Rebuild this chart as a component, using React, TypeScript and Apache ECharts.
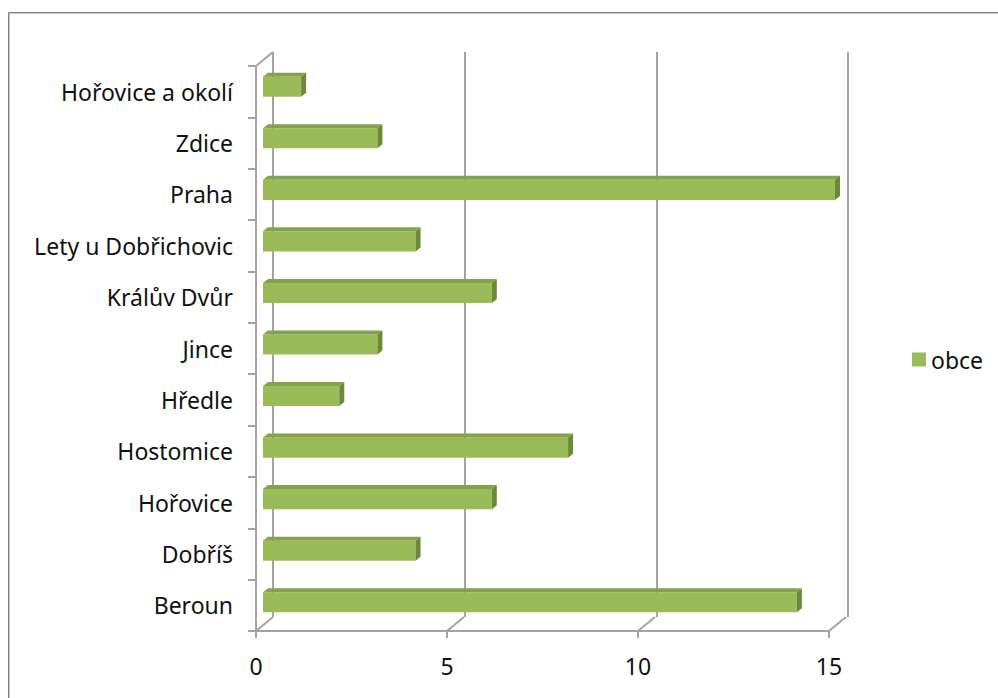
import React, { useEffect, useRef } from "react";
import * as echarts from "echarts";

const categories = [
  "Beroun",
  "Dobříš",
  "Hořovice",
  "Hostomice",
  "Hředle",
  "Jince",
  "Králův Dvůr",
  "Lety u Dobřichovic",
  "Praha",
  "Zdice",
  "Hořovice a okolí",
];
const obce = [14, 4, 6, 8, 2, 3, 6, 4, 15, 3, 1];
const xMin = 0;
const xMax = 15;
const xInterval = 5;
const frameTicks = [0, 5, 10, 15];

const FONT = "Noto Sans";
const AXIS_COLOR = "#a3a3a3";
const DEPTH_X = 17;
const DEPTH_Y = 14;

export default function App() {
  const ref = useRef<HTMLDivElement>(null);

  useEffect(() => {
    if (!ref.current) return;
    const chart = echarts.init(ref.current, undefined, { renderer: "svg" });

    const option: any = {
      animation: false,
      backgroundColor: "#ffffff",
      textStyle: { fontFamily: FONT },
      graphic: [
        {
          type: "rect",
          shape: { x: 8.5, y: 12.5, width: 1200, height: 1000 },
          style: { fill: "none", stroke: "#7f7f7f", lineWidth: 1 },
          silent: true,
        },
        {
          type: "rect",
          shape: { x: 9.5, y: 13.5, width: 1200, height: 1000 },
          style: { fill: "none", stroke: "#c6c6c6", lineWidth: 1 },
          silent: true,
        },
      ],
      legend: {
        data: ["obce"],
        left: 907,
        top: 343,
        icon: "rect",
        itemWidth: 14,
        itemHeight: 14,
        textStyle: { fontSize: 23, color: "#111", fontFamily: FONT },
      },
      grid: [
        { left: 256, right: 169, top: 66, bottom: 67 },
        { left: 273, right: 150, top: 52, bottom: 81 },
        { left: 263, right: 163, top: 61, bottom: 70 },
      ],
      xAxis: [
        {
          gridIndex: 0,
          type: "value",
          min: xMin,
          max: xMax,
          interval: xInterval,
          axisLine: { show: true, lineStyle: { color: AXIS_COLOR, width: 2 } },
          axisTick: { show: true, length: 7, lineStyle: { color: AXIS_COLOR, width: 2 } },
          axisLabel: { margin: 23, fontSize: 23, color: "#111", fontFamily: FONT },
          splitLine: { show: false },
        },
        {
          gridIndex: 1,
          type: "value",
          min: xMin,
          max: xMax,
          interval: xInterval,
          axisLine: { show: false },
          axisTick: { show: false },
          axisLabel: { show: false },
          splitLine: {
            show: true,
            showMinLine: true,
            showMaxLine: true,
            lineStyle: { color: AXIS_COLOR, width: 2 },
          },
        },
        { gridIndex: 2, type: "value", min: xMin, max: xMax, show: false },
      ],
      yAxis: [
        {
          gridIndex: 0,
          type: "category",
          data: categories,
          axisLine: { show: true, lineStyle: { color: AXIS_COLOR, width: 2 } },
          axisTick: { show: true, length: 8, lineStyle: { color: AXIS_COLOR, width: 2 } },
          axisLabel: { margin: 23, fontSize: 23, color: "#111", fontFamily: FONT },
          splitLine: { show: false },
        },
        { gridIndex: 1, type: "category", data: categories, show: false },
        { gridIndex: 2, type: "category", data: categories, show: false },
      ],
      series: [
        {
          type: "custom",
          name: "frame",
          xAxisIndex: 0,
          yAxisIndex: 0,
          silent: true,
          data: frameTicks.map((v) => [v, 0]),
          renderItem: (params: any, api: any) => {
            const v = api.value(0);
            const p = api.coord([v, 0]);
            const cs = params.coordSys;
            const bottom = cs.y + cs.height;
            const ls = { stroke: AXIS_COLOR, lineWidth: 2 };
            const children: any[] = [
              {
                type: "line",
                shape: { x1: p[0], y1: bottom, x2: p[0] + DEPTH_X, y2: bottom - DEPTH_Y },
                style: ls,
              },
            ];
            if (v === xMin) {
              children.push({
                type: "line",
                shape: { x1: p[0], y1: cs.y, x2: p[0] + DEPTH_X, y2: cs.y - DEPTH_Y },
                style: ls,
              });
            }
            return { type: "group", children };
          },
        },
        {
          type: "custom",
          name: "obce",
          xAxisIndex: 2,
          yAxisIndex: 2,
          itemStyle: { color: "#9BBB59" },
          data: obce.map((v, i) => [v, i]),
          renderItem: (params: any, api: any) => {
            const v = api.value(0);
            const i = api.value(1);
            const s = api.coord([0, i]);
            const e = api.coord([v, i]);
            const band = api.size([0, 1])[1];
            const h = band * 0.39;
            const top = s[1] - h / 2;
            const bot = s[1] + h / 2;
            const dx = 5;
            const dy = 4;
            return {
              type: "group",
              children: [
                {
                  type: "rect",
                  shape: { x: s[0], y: top, width: e[0] - s[0], height: h },
                  style: { fill: "#9BBB59" },
                },
                {
                  type: "polygon",
                  shape: {
                    points: [
                      [s[0], top],
                      [e[0], top],
                      [e[0] + dx, top - dy],
                      [s[0] + dx, top - dy],
                    ],
                  },
                  style: { fill: "#84A24B" },
                },
                {
                  type: "polygon",
                  shape: {
                    points: [
                      [e[0], top],
                      [e[0] + dx, top - dy],
                      [e[0] + dx, bot - dy],
                      [e[0], bot],
                    ],
                  },
                  style: { fill: "#6C8935" },
                },
              ],
            };
          },
        },
      ],
    };

    chart.setOption(option);
    return () => chart.dispose();
  }, []);

  return (
    <div
      ref={ref}
      style={{ position: "fixed", left: 0, top: 0, width: 998, height: 698 }}
    />
  );
}
